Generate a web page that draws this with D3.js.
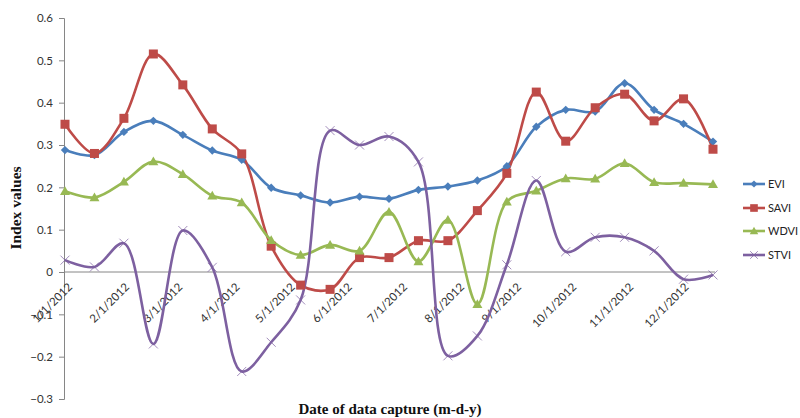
<!DOCTYPE html>
<html><head><meta charset="utf-8">
<script src="https://cdn.jsdelivr.net/npm/d3@7"></script>
<style>
body{margin:0;background:#fff;}
svg{display:block;}
</style></head>
<body>
<script>
// 16-day composite dates (day of year 2012)
const doy = [1,17,33,49,65,81,97,113,129,145,161,177,193,209,225,241,257,273,289,305,321,337,353];
const evi  = [0.288,0.276,0.331,0.357,0.324,0.287,0.265,0.199,0.181,0.164,0.178,0.173,0.194,0.202,0.216,0.250,0.343,0.383,0.379,0.446,0.383,0.350,0.308];
const savi = [0.349,0.280,0.363,0.515,0.442,0.338,0.279,0.061,-0.031,-0.041,0.034,0.034,0.074,0.074,0.145,0.233,0.425,0.309,0.388,0.420,0.357,0.409,0.290];
const wdvi = [0.191,0.176,0.213,0.261,0.231,0.180,0.164,0.075,0.040,0.064,0.050,0.142,0.025,0.123,-0.076,0.166,0.192,0.221,0.220,0.257,0.212,0.210,0.207];
const stvi = [0.028,0.012,0.068,-0.170,0.098,0.011,-0.235,-0.166,-0.066,0.334,0.300,0.320,0.260,-0.198,-0.151,0.017,0.216,0.048,0.082,0.082,0.050,-0.017,-0.007];
const seriesNames = ["EVI","SAVI","WDVI","STVI"];
const seriesData = [evi, savi, wdvi, stvi];
const yTicks = [0.6,0.5,0.4,0.3,0.2,0.1,0,-0.1,-0.2,-0.3];
const monthTicks = ["1/1/2012","2/1/2012","3/1/2012","4/1/2012","5/1/2012","6/1/2012","7/1/2012","8/1/2012","9/1/2012","10/1/2012","11/1/2012","12/1/2012"];
const yTitle = "Index values";
const xTitle = "Date of data capture (m-d-y)";

const W = 800, H = 418;
const colors = ["#4A7EBB","#BE4B48","#98B954","#7D60A0"];
const markers = ["diamond","square","triangle","x"];

const dates = doy.map(d => new Date(2012,0,d));
const x = d3.scaleTime().domain([dates[0], dates[dates.length-1]]).range([65, 713]);
const y = d3.scaleLinear().domain([-0.3, 0.6]).range([399, 18]);

const svg = d3.select("body").append("svg").attr("width", W).attr("height", H);

// y axis
const yAxis = d3.axisLeft(y).tickValues(yTicks).tickSize(5).tickPadding(6)
  .tickFormat(d => d === 0 ? "0" : d3.format("")(+d.toFixed(1)));
const gy = svg.append("g").attr("transform","translate(64,0)").call(yAxis);
gy.select(".domain").attr("stroke","#868686").attr("d","M-5,18.5H0.5V399.5H-5");
gy.selectAll(".tick line").attr("stroke","#868686");
gy.selectAll(".tick text").attr("fill","#333").style("font-family","Lato, 'Open Sans', sans-serif").style("font-size","11.5px");

// zero line (category axis)
svg.append("line").attr("x1",64).attr("x2",715).attr("y1",y(0)).attr("y2",y(0))
  .attr("stroke","#868686").attr("stroke-width",1);

// month labels
const monthDates = monthTicks.map(s => { const p = s.split("/"); return new Date(+p[2], +p[0]-1, +p[1]); });
svg.append("g").selectAll("text").data(monthDates).join("text")
  .attr("transform", (d,i) => `translate(${x(d)+5},${y(0)+13}) rotate(-45)`)
  .attr("text-anchor","end").attr("dy","0.35em")
  .attr("fill","#333").style("font-family","Lato, 'Open Sans', sans-serif").style("font-size","11.5px")
  .text((d,i) => monthTicks[i]);

// lines
const line = d3.line().x((d,i) => x(dates[i])).y(d => y(d)).curve(d3.curveCatmullRom.alpha(0.5));
seriesData.forEach((s, k) => {
  svg.append("path").datum(s).attr("d", line).attr("fill","none")
    .attr("stroke", colors[k]).attr("stroke-width", 2.6).attr("stroke-linejoin","round");
});

function drawMarker(g, type, cx, cy, color, scale) {
  const s = scale || 1;
  if (type === "diamond") {
    const r = 4.2*s;
    g.append("path").attr("d",`M${cx},${cy-r}L${cx+r},${cy}L${cx},${cy+r}L${cx-r},${cy}Z`).attr("fill",color);
  } else if (type === "square") {
    const r = 4.5*s;
    g.append("rect").attr("x",cx-r).attr("y",cy-r).attr("width",2*r).attr("height",2*r).attr("fill",color);
  } else if (type === "triangle") {
    const r = 5*s;
    g.append("path").attr("d",`M${cx},${cy-r}L${cx+r},${cy+r*0.75}L${cx-r},${cy+r*0.75}Z`).attr("fill",color);
  } else {
    const r = 4.5*s;
    g.append("path").attr("d",`M${cx-r},${cy-r}L${cx+r},${cy+r}M${cx-r},${cy+r}L${cx+r},${cy-r}`)
      .attr("stroke",color).attr("stroke-width",0.9).attr("fill","none").attr("opacity",0.8);
  }
}

seriesData.forEach((s, k) => {
  const g = svg.append("g");
  s.forEach((v,i) => drawMarker(g, markers[k], x(dates[i]), y(v), colors[k]));
});

// legend
const lg = svg.append("g");
const legY = [184, 208, 231, 255];
seriesNames.forEach((n,k) => {
  lg.append("line").attr("x1",743).attr("x2",765).attr("y1",legY[k]).attr("y2",legY[k])
    .attr("stroke",colors[k]).attr("stroke-width",2.6);
  drawMarker(lg, markers[k], 754, legY[k], colors[k], 0.85);
  lg.append("text").attr("x",768).attr("y",legY[k]).attr("dy","0.35em")
    .attr("fill","#222").style("font-family","Lato, 'Open Sans', sans-serif").style("font-size","11px").text(n);
});

// titles
svg.append("text").attr("transform","translate(21,208) rotate(-90)").attr("text-anchor","middle")
  .style("font-family","'Liberation Serif', 'DejaVu Serif', serif").style("font-weight","bold").style("font-size","15.5px")
  .attr("fill","#111").text(yTitle);
svg.append("text").attr("x",390).attr("y",414).attr("text-anchor","middle")
  .style("font-family","'Liberation Serif', 'DejaVu Serif', serif").style("font-weight","bold").style("font-size","15px")
  .attr("fill","#111").text(xTitle);
</script>
</body></html>
